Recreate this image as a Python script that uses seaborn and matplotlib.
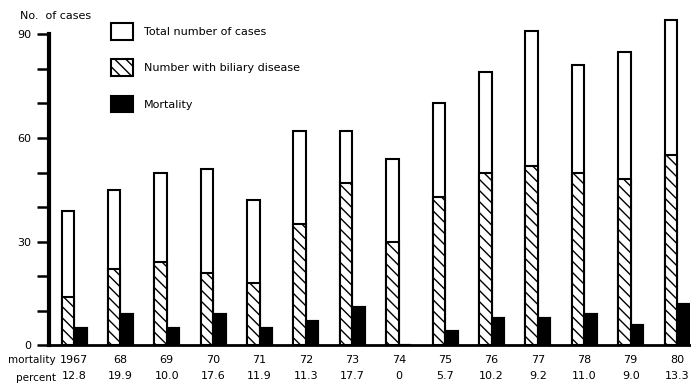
import pandas as pd
import seaborn as sns
import matplotlib.pyplot as plt
from matplotlib.patches import Patch

# valores
years = ['1967', '68', '69', '70', '71', '72', '73', '74', '75', '76', '77', '78', '79', '80']
total_cases = [39, 45, 50, 51, 42, 62, 62, 54, 70, 79, 91, 81, 85, 94]
biliary_cases = [14, 22, 24, 21, 18, 35, 47, 30, 43, 50, 52, 50, 48, 55]
mortality = [5, 9, 5, 9, 5, 7, 11, 0, 4, 8, 8, 9, 6, 12]
mortality_percent = ['12.8', '19.9', '10.0', '17.6', '11.9', '11.3', '17.7', '0',
                     '5.7', '10.2', '9.2', '11.0', '9.0', '13.3']

HATCH = '\\\\\\'


def build_frame(values, name):
    df_a = pd.DataFrame({'year': years, 'value': values, 'series': name})
    df_b = pd.DataFrame({'year': years, 'value': mortality, 'series': 'Mortality'})
    return pd.concat([df_a, df_b], ignore_index=True)


def main():
    sns.set_style('ticks', {'axes.edgecolor': 'black', 'text.color': 'black',
                            'xtick.color': 'black', 'ytick.color': 'black',
                            'axes.labelcolor': 'black'})
    plt.rcParams['font.family'] = ['DejaVu Sans']
    plt.rcParams['hatch.linewidth'] = 1.0
    plt.rcParams['hatch.color'] = 'black'

    fig = plt.figure(figsize=(6.91, 3.87), dpi=100)
    ax = fig.add_axes([0.0709, 0.1077, 0.9277, 0.8574])

    # barras do total + mortalidade
    df_total = build_frame(total_cases, 'Total')
    sns.barplot(data=df_total, x='year', y='value', hue='series', hue_order=['Total', 'Mortality'],
                palette={'Total': 'white', 'Mortality': 'black'}, dodge=True, width=0.54, gap=0,
                edgecolor='black', linewidth=1.5, legend=False, ax=ax, order=years)

    # barras de doenca biliar por cima
    df_bil = build_frame(biliary_cases, 'Biliary')
    sns.barplot(data=df_bil, x='year', y='value', hue='series', hue_order=['Biliary', 'Mortality'],
                palette={'Biliary': 'white', 'Mortality': 'black'}, dodge=True, width=0.54, gap=0,
                edgecolor='black', linewidth=1.5, legend=False, ax=ax, order=years)
    for bar in ax.containers[2]:
        bar.set_hatch(HATCH)

    ax.set_xlim(-0.54, 13.28)
    ax.set_ylim(0, 96)
    ax.set_yticks([0, 30, 60, 90])
    ax.set_yticks([10, 20, 40, 50, 70, 80], minor=True)
    ax.spines['left'].set_bounds(0, 90)
    ax.spines['left'].set_linewidth(3)
    ax.spines['bottom'].set_linewidth(2)
    sns.despine(ax=ax, top=True, right=True)
    ax.tick_params(axis='y', which='both', length=9, width=1.8, labelsize=8, pad=4,
                   color='black', labelcolor='black')

    labels = [f'{y}\n{p}' for y, p in zip(years, mortality_percent)]
    ax.set_xticks(range(len(years)))
    ax.set_xticklabels(labels, fontsize=8, color='black')
    ax.tick_params(axis='x', length=0, pad=7)
    for lbl in ax.get_xticklabels():
        lbl.set_linespacing(1.8)
    ax.set_xlabel('')
    ax.set_ylabel('')

    fig.text(56 / 691, 1 - 355 / 387, 'mortality\npercent', ha='right', va='top',
             fontsize=7.5, linespacing=1.95, color='black')
    fig.text(20 / 691, 1 - 16 / 387, 'No.  of cases', ha='left', va='center',
             fontsize=8, color='black')

    handles = [Patch(facecolor='white', edgecolor='black', linewidth=1.5),
               Patch(facecolor='white', edgecolor='black', linewidth=1.5, hatch=HATCH),
               Patch(facecolor='black', edgecolor='black', linewidth=1.5)]
    names = ['Total number of cases', 'Number with biliary disease', 'Mortality']
    leg = ax.legend(handles, names, loc='upper left', bbox_to_anchor=(0.0967, 0.971), frameon=False,
                    borderpad=0, borderaxespad=0, handlelength=1.95, handleheight=1.95,
                    labelspacing=1.75, handletextpad=1.0, fontsize=8)
    for t in leg.get_texts():
        t.set_color('black')

    fig.savefig('out.png', dpi=100)


if __name__ == '__main__':
    main()
